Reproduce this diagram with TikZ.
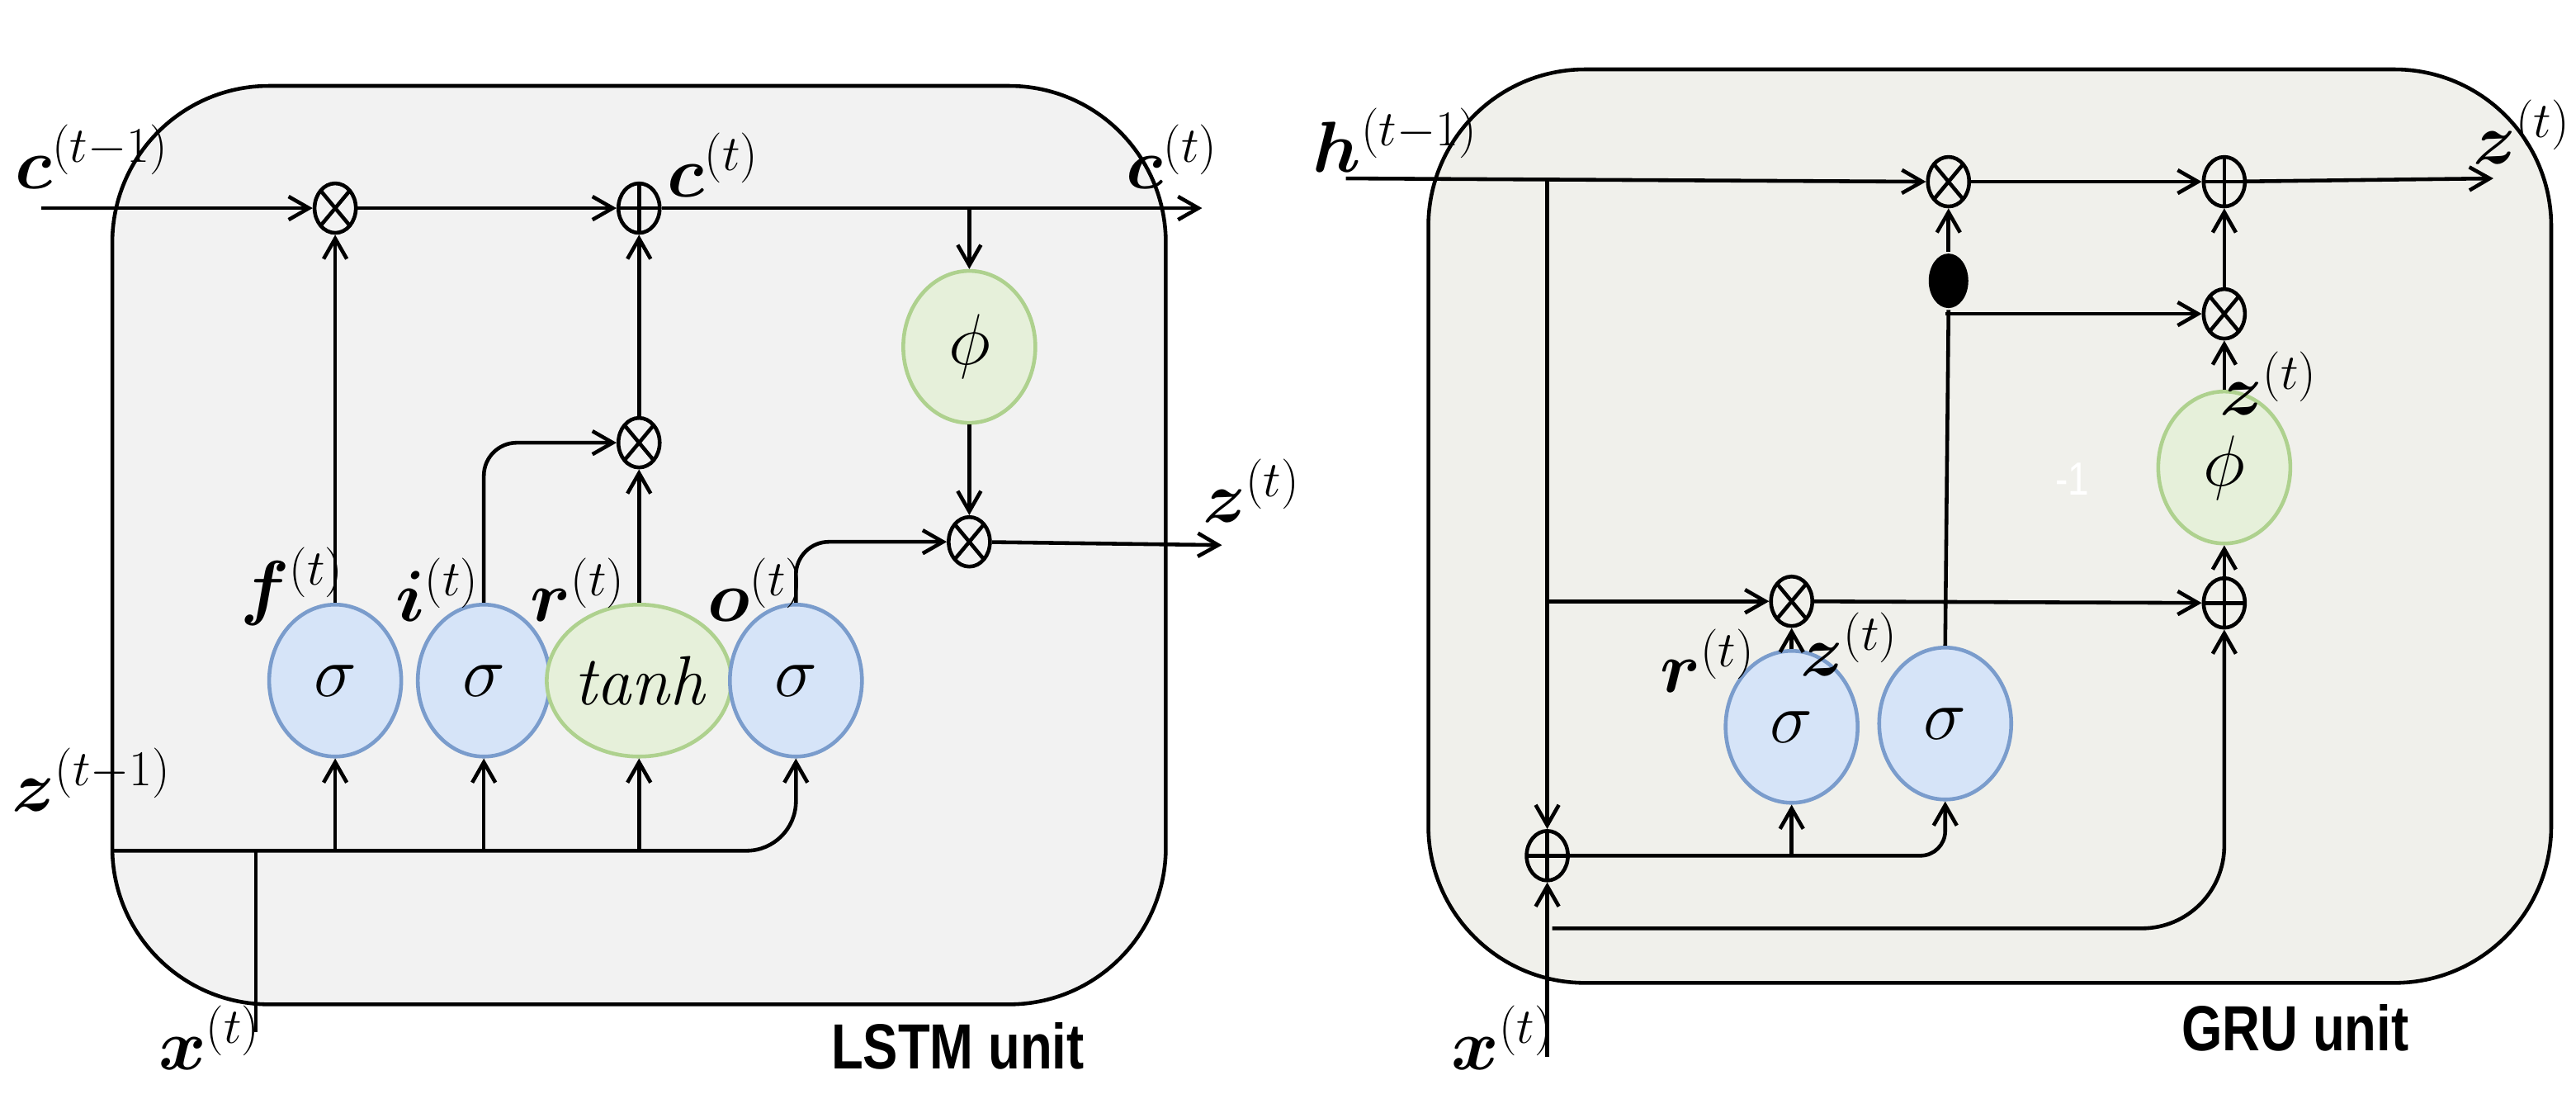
\documentclass[tikz,border=0pt]{standalone}
\usepackage{amsmath,bm}
\usepackage{fontspec}
\newfontfamily\unitfont{Liberation Sans}[FakeStretch=0.82]
\usetikzlibrary{arrows.meta,shapes.geometric}
\definecolor{boxgray}{HTML}{F2F2F2}
\definecolor{boxgreen}{HTML}{F0F0EB}
\definecolor{sigfill}{HTML}{D6E4F8}
\definecolor{sigdraw}{HTML}{7A9CCC}
\definecolor{phifill}{HTML}{E6F0DA}
\definecolor{phidraw}{HTML}{AED18E}
\newcommand{\vlab}[2]{$\bm{#1}^{(#2)}$}
\tikzset{>={Straight Barb[length=7pt,width=8pt]},
  unit/.style={draw,rounded corners=1.9cm},
  gate/.style={ellipse,draw=sigdraw,fill=sigfill,line width=1.3pt,inner sep=0pt,minimum width=1.6cm,minimum height=1.84cm,font=\fontsize{24}{26}\selectfont},
  act/.style={gate,draw=phidraw,fill=phifill},
  mult/.style={ellipse,draw,minimum width=0.5cm,minimum height=0.6cm,inner sep=0pt,
    path picture={\draw (path picture bounding box.north west) -- (path picture bounding box.south east)
      (path picture bounding box.south west) -- (path picture bounding box.north east);}},
  add/.style={ellipse,draw,minimum width=0.5cm,minimum height=0.6cm,inner sep=0pt,
    path picture={\draw (path picture bounding box.north) -- (path picture bounding box.south)
      (path picture bounding box.west) -- (path picture bounding box.east);}},
  lab/.style={inner sep=0pt,font=\fontsize{23}{26}\selectfont},
  title/.style={font=\unitfont\bfseries\fontsize{22}{26}\selectfont}}
\begin{document}
\begin{tikzpicture}[x=0.02cm,y=-0.02cm,line width=1.3pt]
\useasboundingbox (0,0) rectangle (1560,665);
% LSTM 单元外框
\draw[unit,fill=boxgray] (68,52) rectangle (706,608);
\coordinate (cin) at (25,126);
\coordinate (cout) at (728,126);
\coordinate (zin) at (68,515);
\coordinate (xin) at (155,625);
\node[mult] (fx) at (203,126) {};
\node[add] (cp) at (387,126) {};
\node[mult] (ix) at (387,268) {};
\node[act] (phi) at (587,210) {$\phi$};
\node[mult] (ox) at (587,328) {};
\coordinate (zout) at (740,330);
\node[gate] (fs) at (203,412) {$\sigma$};
\node[gate] (is) at (293,412) {$\sigma$};
\node[act] (rs) at (387,412) {$\mathit{tanh}$};
\node[gate] (os) at (482,412) {$\sigma$};
% 记忆单元的水平通路
\draw[->] (cin) -- (fx.west);
\draw[->] (fx) -- (cp.west);
\draw[->] (cp) -- (cout);
\draw[->] (phi |- cin) -- (phi.north);
\draw[->] (phi) -- (ox.north);
\draw[->] (ox) -- (zout);
% 各个门
\draw[->] (fs) -- (fx.south);
\draw[->,rounded corners=0.4cm] (is.north) |- (ix.west);
\draw[->] (rs) -- (ix.south);
\draw[->] (ix) -- (cp.south);
\draw[->,rounded corners=0.4cm] (os.north) |- (ox.west);
% 输入
\draw[->,rounded corners=0.6cm] (zin) -| (os.south);
\foreach \g in {fs,is,rs} \draw[->] (\g |- zin) -- (\g.south);
\draw (xin) -- (xin |- zin);
% 标注
\node[lab,anchor=west] at (8,95) {\vlab{c}{t-1}};
\node[lab] at (432,100) {\vlab{c}{t}};
\node[lab] at (710,95) {\vlab{c}{t}};
\node[lab] at (758,297) {\vlab{z}{t}};
\node[lab,anchor=west] at (6,472) {\vlab{z}{t-1}};
\node[lab] at (127,628) {\vlab{x}{t}};
\node[lab] at (177,355) {\vlab{f}{t}};
\node[lab] at (265,357) {\vlab{i}{t}};
\node[lab] at (350,357) {\vlab{r}{t}};
\node[lab] at (458,357) {\vlab{o}{t}};
\node[title] at (580,633) {LSTM unit};

% GRU 单元外框
\draw[unit,fill=boxgreen] (865,42) rectangle (1545,595);
\coordinate (hin) at (815,108);
\coordinate (hout) at (1510,108);
\coordinate (xb) at (940,562);
\coordinate (gx) at (937,640);
\node[mult] (hx) at (1180,110) {};
\node[add] (hp) at (1347,110) {};
\node[ellipse,fill=black,minimum width=0.48cm,minimum height=0.66cm,inner sep=0pt] (neg) at (1180,170) {};
\node[mult] (ux) at (1347,190) {};
\node[act] (gphi) at (1347,283) {$\phi$};
\node[add] (hs) at (1347,365) {};
\node[mult] (rx) at (1085,364) {};
\node[add] (xs) at (937,518) {};
\node[gate] (gr) at (1085,440) {$\sigma$};
\node[gate] (gz) at (1178,438) {$\sigma$};
% 隐状态通路
\draw[->] (hin) -- (hx.west);
\draw[->] (hx) -- (hp.west);
\draw[->] (hp) -- (hout);
\draw[->] (xs |- hin) -- (xs.north);
\draw[->] (xs |- rx) -- (rx.west);
\draw[->] (rx) -- (hs.west);
% 更新门
\draw (gz.north) -- (neg.south);
\draw[->] (neg) -- (hx.south);
\draw[->] (gz |- ux) -- (ux.west);
\draw[->] (ux) -- (hp.south);
\draw[->] (gphi) -- (ux.south);
\draw[->] (hs) -- (gphi.south);
\draw[->] (gr) -- (rx.south);
% 输入
\draw[->] (gx) -- (xs.south);
\draw[->,rounded corners=0.3cm] (xs.east) -| (gz.south);
\draw[->] (gr |- xs) -- (gr.south);
\draw[->,rounded corners=1cm] (xb) -| (hs.south);
% 标注
\node[lab] at (845,85) {\vlab{h}{t-1}};
\node[lab,anchor=east] at (1558,80) {\vlab{z}{t}};
\node[lab] at (1374,232) {\vlab{z}{t}};
\node[lab] at (1034,400) {\vlab{r}{t}};
\node[lab] at (1120,390) {\vlab{z}{t}};
\node[lab] at (910,628) {\vlab{x}{t}};
\node[white,font=\unitfont\fontsize{16}{18}\selectfont] at (1255,290) {-1};
\node[title] at (1390,622) {GRU unit};
\end{tikzpicture}
\end{document}
